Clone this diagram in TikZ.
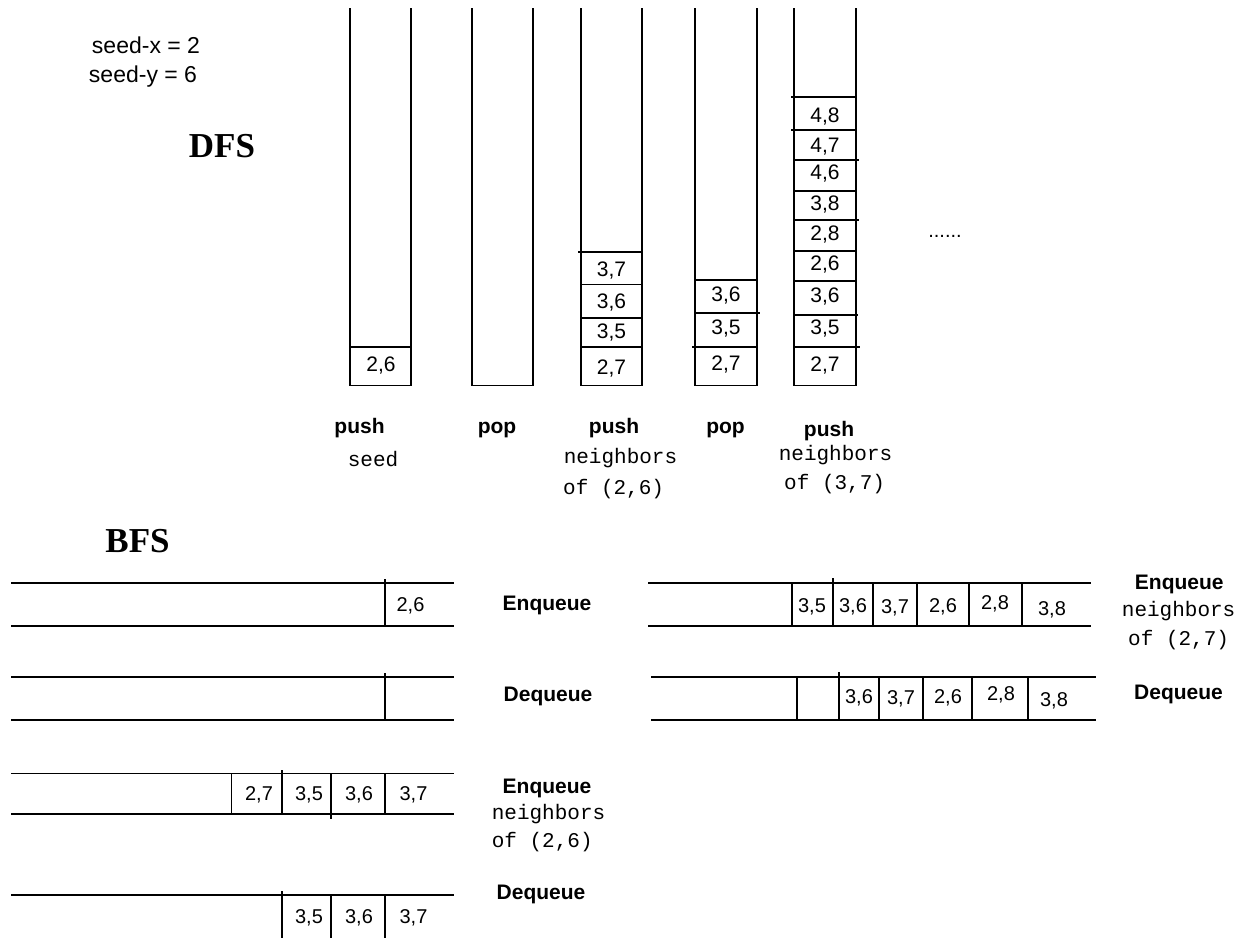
\documentclass[tikz,border=0pt]{standalone}
\usepackage{fontspec}
\newfontfamily\sansf{Liberation Sans}
\newfontfamily\monof{Liberation Mono}
\newfontfamily\seriff{Liberation Serif}
\tikzset{
  wall/.style={line width=1.9pt, line cap=rect},
  cellnum/.style={font=\sansf\fontsize{21}{24}\selectfont, inner sep=0pt},
  qnum/.style={font=\sansf\fontsize{20}{24}\selectfont, inner sep=0pt},
  oplab/.style={font=\sansf\bfseries\fontsize{21}{24}\selectfont, inner sep=0pt},
  monolab/.style={font=\monof\fontsize{21}{24}\selectfont, inner sep=0pt},
  plain/.style={font=\sansf\fontsize{23}{26}\selectfont, inner sep=0pt},
  title/.style={font=\seriff\bfseries\fontsize{35}{40}\selectfont, inner sep=0pt}
}
\begin{document}
\begin{tikzpicture}[x=1pt,y=-1pt]
\useasboundingbox (0,0) rectangle (1247,937);
% ---------- top-left texts ----------
\node[plain] (seedx) at (146,45) {seed-x = 2};
\node[plain] (seedy) at (143,76.5) {seed-y = 6};
\node[title] (dfs) at (222,146.5) {DFS};
\node[title] (bfs) at (137.5,541) {BFS};
% ---------- stack 1 ----------
\draw[wall] (350,9) -- (350,385.5) -- (411,385.5) -- (411,9);
\draw[wall] (350,346.7) -- (411,346.7);
\node[cellnum] (a1) at (381,366) {2,6};
% ---------- stack 2 ----------
\draw[wall] (472,9) -- (472,385.5) -- (533,385.5) -- (533,9);
% ---------- stack 3 ----------
\draw[wall] (581,9) -- (581,385.5) -- (642,385.5) -- (642,9);
\draw[wall] (579,251.6) -- (642,251.6);
\draw[wall] (581,284.5) -- (642,284.5);
\draw[wall] (581,318) -- (642,318);
\draw[wall] (581,346.7) -- (642,346.7);
\node[cellnum] (c1) at (611.5,270.8) {3,7};
\node[cellnum] (c2) at (611.5,303) {3,6};
\node[cellnum] (c3) at (611.5,333) {3,5};
\node[cellnum] (c4) at (611.5,369) {2,7};
% ---------- stack 4 ----------
\draw[wall] (695,9) -- (695,385.5) -- (757,385.5) -- (757,9);
\draw[wall] (695,280.3) -- (757,280.3);
\draw[wall] (695,312.6) -- (759,312.6);
\draw[wall] (693,346.7) -- (757,346.7);
\node[cellnum] (d1) at (726,296) {3,6};
\node[cellnum] (d2) at (726,329) {3,5};
\node[cellnum] (d3) at (726,364.6) {2,7};
% ---------- stack 5 ----------
\draw[wall] (794,9) -- (794,385.5) -- (856,385.5) -- (856,9);
\draw[wall] (792,97.4) -- (856,97.4);
\draw[wall] (792,129.7) -- (856,129.7);
\draw[wall] (794,160.2) -- (858,160.2);
\draw[wall] (794,191.3) -- (856,191.3);
\draw[wall] (794,220) -- (858,220);
\draw[wall] (794,251) -- (856,251);
\draw[wall] (794,281) -- (856,281);
\draw[wall] (794,315) -- (857,315);
\draw[wall] (796,346.7) -- (859,346.7);
\node[cellnum] (e1) at (825,116.6) {4,8};
\node[cellnum] (e2) at (825,146.4) {4,7};
\node[cellnum] (e3) at (825,173.3) {4,6};
\node[cellnum] (e4) at (825,204.4) {3,8};
\node[cellnum] (e5) at (825,234.3) {2,8};
\node[cellnum] (e6) at (825,264.2) {2,6};
\node[cellnum] (e7) at (825,297) {3,6};
\node[cellnum] (e8) at (825,328.7) {3,5};
\node[cellnum] (e9) at (825,365.8) {2,7};
\node[font=\sansf\fontsize{20}{24}\selectfont, inner sep=0pt] (dots) at (945,236) {......};
% ---------- stack captions ----------
\node[oplab, anchor=base] (p1) at (359.5,433) {push};
\node[monolab, anchor=base] (p1b) at (373,466) {seed};
\node[oplab, anchor=base] (p2) at (497,433) {pop};
\node[oplab, anchor=base] (p3) at (614,433) {push};
\node[monolab, anchor=base] (p3b) at (620.5,463) {neighbors};
\node[monolab, anchor=base west] (p3c) at (563,494) {of (2,6)};
\node[oplab, anchor=base] (p4) at (725.5,433) {pop};
\node[oplab, anchor=base] (p5) at (829,436) {push};
\node[monolab, anchor=base] (p5b) at (835.5,460) {neighbors};
\node[monolab, anchor=base west] (p5c) at (784,489) {of (3,7)};
% ---------- queue 1 ----------
\draw[wall] (12,582.8) -- (453.5,582.8);
\draw[wall] (12,626.4) -- (453.5,626.4);
\draw[wall] (385,579.5) -- (385,626.4);
\node[qnum] (q1a) at (410.5,605.5) {2,6};
\node[oplab] (q1l) at (547,605.5) {Enqueue};
% ---------- queue 2 ----------
\draw[wall] (12,676.6) -- (453.5,676.6);
\draw[wall] (12,720.3) -- (453.5,720.3);
\draw[wall] (385,673.5) -- (385,720.3);
\node[oplab] (q2l) at (548,696) {Dequeue};
% ---------- queue 3 ----------
\draw[wall] (12,773.5) -- (453.5,773.5);
\draw[wall] (12,814) -- (453.5,814);
\draw[wall] (231.5,773.5) -- (231.5,814);
\draw[wall] (281.6,771) -- (281.6,814);
\draw[wall] (331,773.5) -- (331,818);
\draw[wall] (385,773.5) -- (385,814);
\node[qnum] (q3a) at (259,795) {2,7};
\node[qnum] (q3b) at (309,795) {3,5};
\node[qnum] (q3c) at (359,795) {3,6};
\node[qnum] (q3d) at (413.5,795) {3,7};
\node[oplab] (q3l) at (547,788) {Enqueue};
\node[monolab, anchor=west] (q3m) at (491.6,814) {neighbors};
\node[monolab, anchor=west] (q3n) at (491.6,841.6) {of (2,6)};
% ---------- queue 4 ----------
\draw[wall] (12,894.8) -- (453.5,894.8);
\draw[wall] (281.6,892) -- (281.6,940);
\draw[wall] (331,894.8) -- (331,940);
\draw[wall] (385,894.8) -- (385,940);
\node[qnum] (q4a) at (309,917.5) {3,5};
\node[qnum] (q4b) at (359,917.5) {3,6};
\node[qnum] (q4c) at (413.5,917.5) {3,7};
\node[oplab] (q4l) at (541,894.8) {Dequeue};
% ---------- queue 5 ----------
\draw[wall] (649,582.8) -- (1090,582.8);
\draw[wall] (649,626.4) -- (1090,626.4);
\draw[wall] (791.6,582.8) -- (791.6,626.4);
\draw[wall] (833,578.6) -- (833,626.4);
\draw[wall] (872.7,582.8) -- (872.7,626.4);
\draw[wall] (917.3,582.8) -- (917.3,626.4);
\draw[wall] (969,582.8) -- (969,626.4);
\draw[wall] (1022.3,582.8) -- (1022.3,626.4);
\node[qnum] (q5a) at (812,606.7) {3,5};
\node[qnum] (q5b) at (853,606.7) {3,6};
\node[qnum] (q5c) at (895,608) {3,7};
\node[qnum] (q5d) at (943,606.7) {2,6};
\node[qnum] (q5e) at (995,603.7) {2,8};
\node[qnum] (q5f) at (1052,609.7) {3,8};
\node[oplab] (q5l) at (1179.3,584.6) {Enqueue};
\node[monolab, anchor=west] (q5m) at (1121.7,611) {neighbors};
\node[monolab, anchor=west] (q5n) at (1128,639.6) {of (2,7)};
% ---------- queue 6 ----------
\draw[wall] (652,676.6) -- (1095.5,676.6);
\draw[wall] (652,720.3) -- (1095.5,720.3);
\draw[wall] (797,676.6) -- (797,720.3);
\draw[wall] (839,672.5) -- (839,720.3);
\draw[wall] (879,676.6) -- (879,720.3);
\draw[wall] (923,676.6) -- (923,720.3);
\draw[wall] (972,676.6) -- (972,720.3);
\draw[wall] (1028,676.6) -- (1028,720.3);
\node[qnum] (q6a) at (859,698) {3,6};
\node[qnum] (q6b) at (901,699) {3,7};
\node[qnum] (q6c) at (948,698) {2,6};
\node[qnum] (q6d) at (1001,695) {2,8};
\node[qnum] (q6e) at (1054,700.5) {3,8};
\node[oplab] (q6l) at (1178.5,694.6) {Dequeue};
\end{tikzpicture}
\end{document}
